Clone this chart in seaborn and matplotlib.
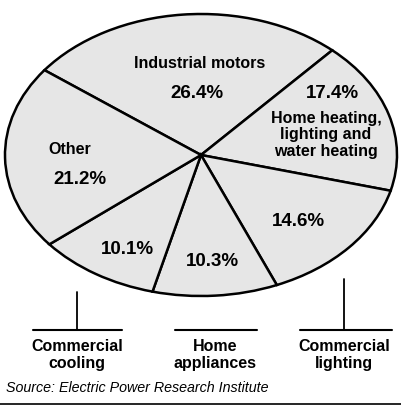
import matplotlib
matplotlib.use("Agg")
import matplotlib.pyplot as plt
import seaborn as sns

sns.set_theme(style="white")
plt.rcParams["font.family"] = ["Liberation Sans", "DejaVu Sans"]
plt.rcParams["text.color"] = "black"

# data (share of electricity use, %)
segments = ["Industrial motors", "Home heating, lighting and water heating",
            "Commercial lighting", "Home appliances", "Commercial cooling", "Other"]
shares = [26.4, 17.4, 14.6, 10.3, 10.1, 21.2]
pct_labels = ["26.4%", "17.4%", "14.6%", "10.3%", "10.1%", "21.2%"]

fig = plt.figure(figsize=(4.02, 4.10), dpi=100)
fig.patch.set_facecolor("white")

# squashed axes so the pie reads as a tilted ellipse
ax = fig.add_axes([5 / 402, 1 - 297 / 410, 392 / 402, 282 / 410])
ax.pie(shares, startangle=143, counterclock=False, radius=1,
       colors=["#e6e6e6"] * len(shares),
       wedgeprops=dict(edgecolor="black", linewidth=1.8))
ax.set_aspect("auto")
ax.set_xlim(-1.0, 1.0)
ax.set_ylim(-1.0, 1.0)
ax.axis("off")

# labels inside the slices (figure pixel coordinates -> fraction)
def ftext(x, y, s, size=11.5, ls=1.0, **kw):
    fig.text(x / 402, 1 - y / 410, s, fontsize=size, fontweight="bold",
             ha=kw.pop("ha", "center"), va=kw.pop("va", "center"),
             linespacing=ls, color="black", **kw)

ftext(200, 64, "Industrial motors", 11.5)
ftext(197, 93, pct_labels[0], 13.5)
ftext(332, 94, pct_labels[1], 13.5)
ftext(326, 135, "Home heating,\nlighting and\nwater heating", 11.5, ls=1.1)
ftext(298, 222, pct_labels[2], 13.5)
ftext(212, 262, pct_labels[3], 13.5)
ftext(127, 250, pct_labels[4], 13.5)
ftext(70, 150, "Other", 11.5)
ftext(80, 180, pct_labels[5], 13.5)

# callout labels under the pie
callouts = [("Commercial\ncooling", 77, 33, 122, 293),
            ("Home\nappliances", 215, 175, 257, None),
            ("Commercial\nlighting", 344, 300, 392, 280)]
for text, xc, x0, x1, ytop in callouts:
    fig.add_artist(plt.Line2D([x0 / 402, x1 / 402], [1 - 331 / 410] * 2,
                              color="black", linewidth=1.5))
    if ytop is not None:
        fig.add_artist(plt.Line2D([xc / 402] * 2, [1 - ytop / 410, 1 - 331 / 410],
                                  color="black", linewidth=1.3))
    ftext(xc, 355, text, 11.5, ls=1.15)

fig.text(6 / 402, 1 - 388 / 410, "Source: Electric Power Research Institute",
         fontsize=10.3, fontstyle="italic", ha="left", va="center", color="black")
fig.add_artist(plt.Line2D([0, 1], [1 - 405 / 410] * 2, color="black", linewidth=1.2))

fig.savefig("out.png", dpi=100)
